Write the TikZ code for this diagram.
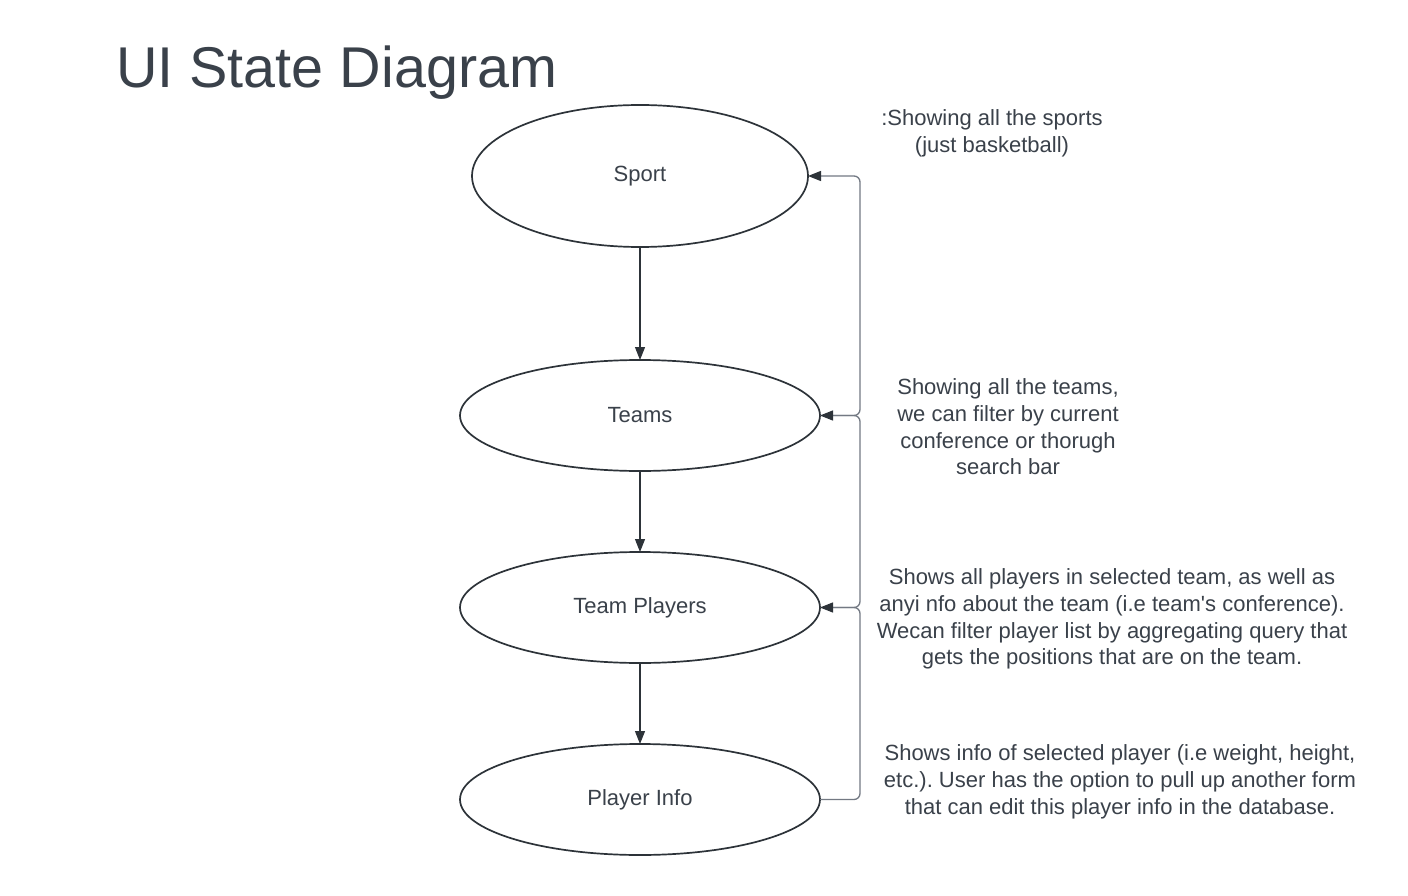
\documentclass[tikz,border=0pt]{standalone}
\usepackage{fontspec}
\setmainfont{Liberation Sans}[Ligatures=TeXOff]
\usetikzlibrary{shapes.geometric,arrows.meta}
\definecolor{txt}{HTML}{3A414A}
\definecolor{edge}{HTML}{2D3339}
\definecolor{conn}{HTML}{737983}
\frenchspacing
\tikzset{
  state/.style={ellipse,draw=edge,line width=1.7pt,inner sep=0pt,outer sep=0pt,
    text=txt,font=\fontsize{22}{26}\selectfont},
  note/.style={align=center,text=txt,font=\fontsize{22}{26.7}\selectfont,inner sep=0pt},
  flow/.style={draw=edge,line width=1.1pt,-{Triangle[length=13pt,width=10pt]}},
  back/.style={draw=conn,line width=1.3pt,rounded corners=6pt,
    -{Triangle[length=13pt,width=10pt,color=edge,fill=edge]}}
}
\begin{document}
\begin{tikzpicture}[x=1pt,y=-1pt]
\useasboundingbox[fill=white] (0,0) rectangle (1408,896);
\node[anchor=base west,text=txt,font=\fontsize{57.5}{68}\selectfont,inner sep=0pt] (title) at (116,88) {UI State Diagram};

\node[state,minimum width=336pt,minimum height=142pt] (sport) at (640,176) {Sport};
\node[state,minimum width=360pt,minimum height=111pt] (teams) at (640,415.5) {Teams};
\node[state,minimum width=360pt,minimum height=111pt] (players) at (640,607.5) {Team Players};
\node[state,minimum width=360pt,minimum height=111pt] (info) at (640,799.5) {Player Info};

\draw[flow] (sport.south) -- (teams.north);
\draw[flow] (teams.south) -- (players.north);
\draw[flow] (players.south) -- (info.north);

\coordinate (c1) at (860,0);
\draw[back] (teams.east) -- (teams.east -| c1) -- (sport.east -| c1) -- (sport.east);
\draw[back] (players.east) -- (players.east -| c1) -- (teams.east -| c1) -- (teams.east);
\draw[back] (info.east) -- (info.east -| c1) -- (players.east -| c1) -- (players.east);

\node[note] (n1) at (992,133) {:Showing all the sports\\(just basketball)};
\node[note] (n2) at (1008,427) {Showing all the teams,\\we can filter by current\\conference or thorugh\\search bar};
\node[note] (n3) at (1112,619) {Shows all players in selected team, as well as\\anyi nfo about the team (i.e team\textquotesingle s conference).\\Wecan filter player list by aggregating query that\\gets the positions that are on the team.};
\node[note] (n4) at (1120,782) {Shows info of selected player (i.e weight, height,\\etc.). User has the option to pull up another form\\that can edit this player info in the database.};
\end{tikzpicture}
\end{document}
